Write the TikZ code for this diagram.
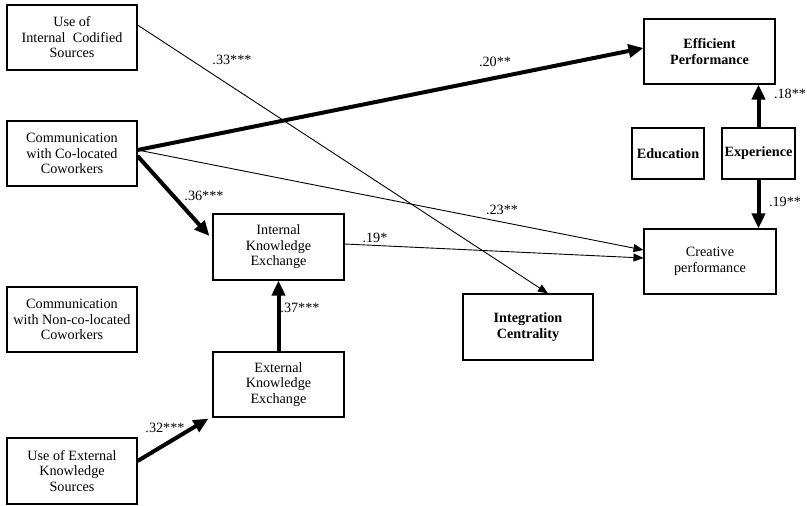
\documentclass[tikz,border=0pt]{standalone}
\usepackage{fontspec}
\setmainfont{Liberation Serif}
\usetikzlibrary{arrows.meta}
\begin{document}
\begin{tikzpicture}[x=1pt,y=-1pt,
  font=\fontsize{14.2}{15.5}\selectfont,
  box/.style={draw,line width=1.1pt,rectangle,align=center,inner sep=0pt,
    minimum width=130pt,minimum height=65pt},
  bold/.style={font=\fontsize{14.2}{16.5}\selectfont\bfseries},
  thin/.style={line width=0.9pt,-{Triangle[length=10pt,width=8pt]}},
  thick/.style={line width=4pt,-{Triangle[length=15pt,width=13pt]}},
  lbl/.style={inner sep=0pt}]
\useasboundingbox (0,0) rectangle (807,506);

% variables
\node[box] (ics) at (72,37.5) {Use of\\Internal~ Codified\\Sources};
\node[box] (ccw) at (72,153.5) {Communication\\with Co-located\\Coworkers};
\node[box] (ncw) at (72,319.5) {Communication\\with Non-co-located\\Coworkers};
\node[box,minimum height=66pt] (ext) at (72,471) {Use of External\\Knowledge\\Sources};
\node[box,minimum width=131pt,minimum height=66pt] (ike) at (278.5,247) {Internal\\Knowledge\\Exchange};
\node[box,minimum width=131pt] (eke) at (278.5,384.5) {External\\Knowledge\\Exchange};
\node[box,bold,minimum height=66pt] (ic) at (528,327) {Integration\\Centrality};
\node[box,minimum width=132pt,font=\fontsize{14.2}{16.5}\selectfont] (cp) at (710,261.5) {Creative\\performance};
\node[box,bold,minimum width=131pt] (ep) at (709.5,51.5) {Efficient\\Performance};
\node[box,bold,minimum width=72pt,minimum height=51pt] (edu) at (668,153.5) {Education};
\node[box,bold,minimum width=73pt,minimum height=51pt] (exp) at (758.5,153.5) {Experience};

% paths
\draw[thin] ([yshift=12.5pt]ics.east) -- ([xshift=20pt]ic.north);
\draw[thick] ([yshift=3.5pt]ccw.east) -- ([yshift=3.5pt]ep.west);
\draw[thin] ([yshift=3.5pt]ccw.east) -- ([yshift=11.5pt]cp.west);
\draw[thick] ([yshift=-2.5pt]ccw.east) -- ([xshift=-3pt,yshift=11pt]ike.west);
\draw[thin] ([yshift=3pt]ike.east) -- ([yshift=3.5pt]cp.west);
\draw[thick] (eke.north) -- (ike.south);
\draw[thick] ([yshift=10pt]ext.east) -- ([xshift=-4pt,yshift=-1pt]eke.south west);
\draw[thick] (exp.north) -- (exp.north |- ep.south);
\draw[thick] (exp.south) -- (exp.south |- cp.north);

% coefficients
\node[lbl] (l33) at (232,60) {.33***};
\node[lbl] (l20) at (495,62) {.20**};
\node[lbl] (l23) at (502,210) {.23**};
\node[lbl] (l19a) at (375,238) {.19*};
\node[lbl] (l36) at (204,196) {.36***};
\node[lbl] (l37) at (300,308) {.37***};
\node[lbl] (l32) at (165,428) {.32***};
\node[lbl] (l18) at (790,94) {.18**};
\node[lbl] (l19b) at (785,202) {.19**};
\end{tikzpicture}
\end{document}
